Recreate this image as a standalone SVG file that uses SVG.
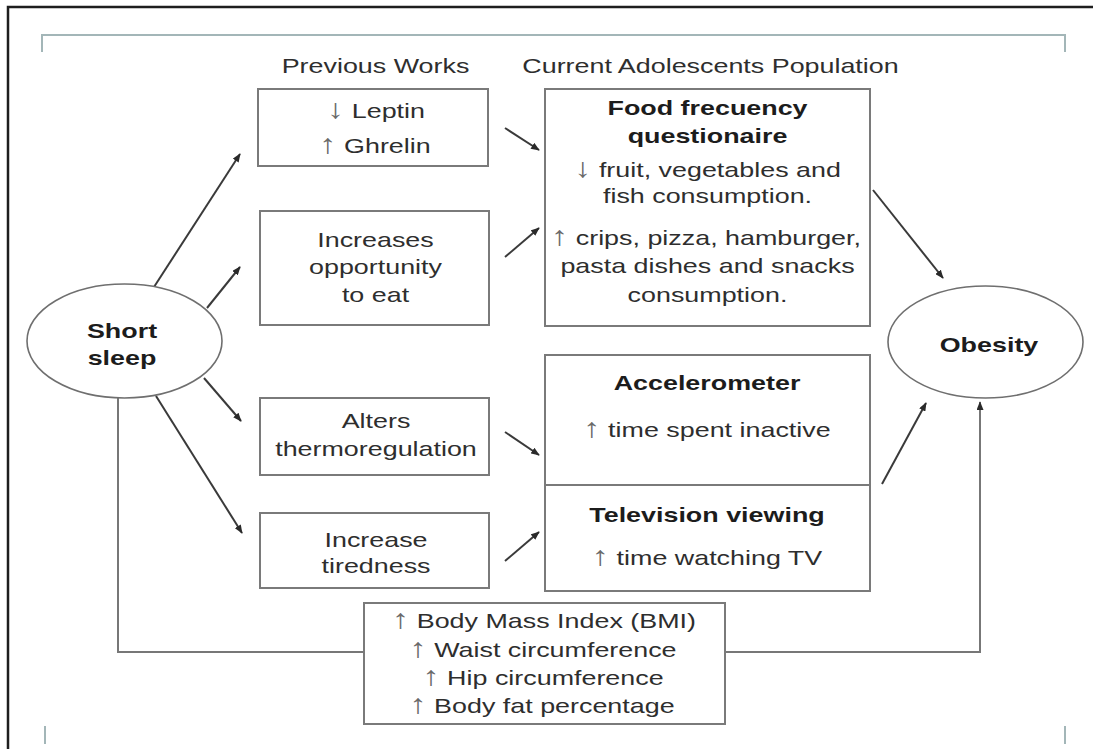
<svg xmlns="http://www.w3.org/2000/svg" width="1093" height="749" viewBox="0 0 1093 749">
<defs>
<style>
.box{fill:#fff;stroke:#7a7a7a;stroke-width:2}
.ell{fill:#fff;stroke:#6f6f6f;stroke-width:1.6}
.t{font-family:"Liberation Sans",Arial,sans-serif;font-size:21px;fill:#2e2e2e;text-anchor:middle}
.b{font-weight:bold;fill:#1c1c1c}
.ar{font-size:27px;fill:#6a6a6a}
.c{fill:none;stroke:#3a3a3a;stroke-width:2}
.g{fill:none;stroke:#777;stroke-width:2}
.frame{fill:none;stroke:#1e1e1e;stroke-width:2.5}
.teal{fill:none;stroke:#a3b6b8;stroke-width:2}
</style>
<marker id="ah" viewBox="0 0 10 8" refX="9" refY="4" markerWidth="9" markerHeight="7" markerUnits="userSpaceOnUse" orient="auto">
<path d="M0,0 L10,4 L0,8 z" fill="#2a2a2a"/>
</marker>
</defs>
<rect x="0" y="0" width="1093" height="749" fill="#fff"/>
<path class="frame" d="M8,749 V7 H1093"/>
<path class="teal" d="M42,52 V35 H1065 V52"/>
<path class="teal" d="M45,726 V744 M1065,726 V744"/>

<g id="headers">
<text class="t" transform="translate(375.5,73) scale(1.28,1)">Previous Works</text>
<text class="t" transform="translate(710.5,73) scale(1.28,1)">Current Adolescents Population</text>
</g>

<g id="connectors">
<line class="c" x1="154" y1="287" x2="240" y2="154" marker-end="url(#ah)"/>
<line class="c" x1="207" y1="308" x2="240" y2="267" marker-end="url(#ah)"/>
<line class="c" x1="204" y1="378" x2="241" y2="421" marker-end="url(#ah)"/>
<line class="c" x1="156" y1="396" x2="242" y2="533" marker-end="url(#ah)"/>
<line class="c" x1="505" y1="128" x2="539" y2="150" marker-end="url(#ah)"/>
<line class="c" x1="505" y1="257" x2="539" y2="228" marker-end="url(#ah)"/>
<line class="c" x1="505" y1="432" x2="539" y2="455" marker-end="url(#ah)"/>
<line class="c" x1="505" y1="561" x2="539" y2="532" marker-end="url(#ah)"/>
<line class="c" x1="873" y1="190" x2="943" y2="278" marker-end="url(#ah)"/>
<line class="c" x1="882" y1="484" x2="926" y2="403" marker-end="url(#ah)"/>
<polyline class="g" points="118,398 118,652 364,652"/>
<polyline class="g" points="725,652 980,652 980,402" marker-end="url(#ah)"/>
</g>

<g id="short-sleep">
<ellipse class="ell" cx="124.5" cy="341" rx="97.5" ry="57"/>
<text class="t b" transform="translate(122,338) scale(1.28,1)">Short</text>
<text class="t b" transform="translate(122,365) scale(1.28,1)">sleep</text>
</g>

<g id="leptin">
<rect class="box" x="258" y="89" width="230" height="77"/>
<text class="t" transform="translate(376,118) scale(1.28,1)"><tspan class="ar">↓</tspan> Leptin</text>
<text class="t" transform="translate(375,153) scale(1.28,1)"><tspan class="ar">↑</tspan> Ghrelin</text>
</g>

<g id="opportunity">
<rect class="box" x="260" y="211" width="229" height="114"/>
<text class="t" transform="translate(375.5,247) scale(1.28,1)">Increases</text>
<text class="t" transform="translate(375.5,274) scale(1.28,1)">opportunity</text>
<text class="t" transform="translate(375.5,302) scale(1.28,1)">to eat</text>
</g>

<g id="thermoregulation">
<rect class="box" x="260" y="398" width="229" height="77"/>
<text class="t" transform="translate(376,428) scale(1.28,1)">Alters</text>
<text class="t" transform="translate(376,456) scale(1.28,1)">thermoregulation</text>
</g>

<g id="tiredness">
<rect class="box" x="260" y="513" width="229" height="75"/>
<text class="t" transform="translate(376,547) scale(1.28,1)">Increase</text>
<text class="t" transform="translate(376,573) scale(1.28,1)">tiredness</text>
</g>

<g id="food">
<rect class="box" x="545" y="89" width="325" height="237"/>
<text class="t b" transform="translate(707.5,115) scale(1.28,1)">Food frecuency</text>
<text class="t b" transform="translate(707.5,143) scale(1.28,1)">questionaire</text>
<text class="t" transform="translate(707.5,177) scale(1.28,1)"><tspan class="ar">↓</tspan> fruit, vegetables and</text>
<text class="t" transform="translate(707.5,203) scale(1.28,1)">fish consumption.</text>
<text class="t" transform="translate(706,245) scale(1.28,1)"><tspan class="ar">↑</tspan> crips, pizza, hamburger,</text>
<text class="t" transform="translate(707.5,273) scale(1.28,1)">pasta dishes and snacks</text>
<text class="t" transform="translate(707.5,302) scale(1.28,1)">consumption.</text>
</g>

<g id="activity">
<rect class="box" x="545" y="355" width="325" height="236"/>
<line class="box" x1="545" y1="485" x2="870" y2="485"/>
<text class="t b" transform="translate(707,390) scale(1.28,1)">Accelerometer</text>
<text class="t" transform="translate(707,437) scale(1.28,1)"><tspan class="ar">↑</tspan> time spent inactive</text>
<text class="t b" transform="translate(707,522) scale(1.28,1)">Television viewing</text>
<text class="t" transform="translate(707,565) scale(1.28,1)"><tspan class="ar">↑</tspan> time watching TV</text>
</g>

<g id="obesity">
<ellipse class="ell" cx="985.5" cy="342" rx="97.5" ry="56"/>
<text class="t b" transform="translate(989,352) scale(1.28,1)">Obesity</text>
</g>

<g id="body">
<rect class="box" x="364" y="603" width="361" height="121"/>
<text class="t" transform="translate(544,628) scale(1.28,1)"><tspan class="ar">↑</tspan> Body Mass Index (BMI)</text>
<text class="t" transform="translate(543,657) scale(1.28,1)"><tspan class="ar">↑</tspan> Waist circumference</text>
<text class="t" transform="translate(543,685) scale(1.28,1)"><tspan class="ar">↑</tspan> Hip circumference</text>
<text class="t" transform="translate(542,713) scale(1.28,1)"><tspan class="ar">↑</tspan> Body fat percentage</text>
</g>
</svg>
